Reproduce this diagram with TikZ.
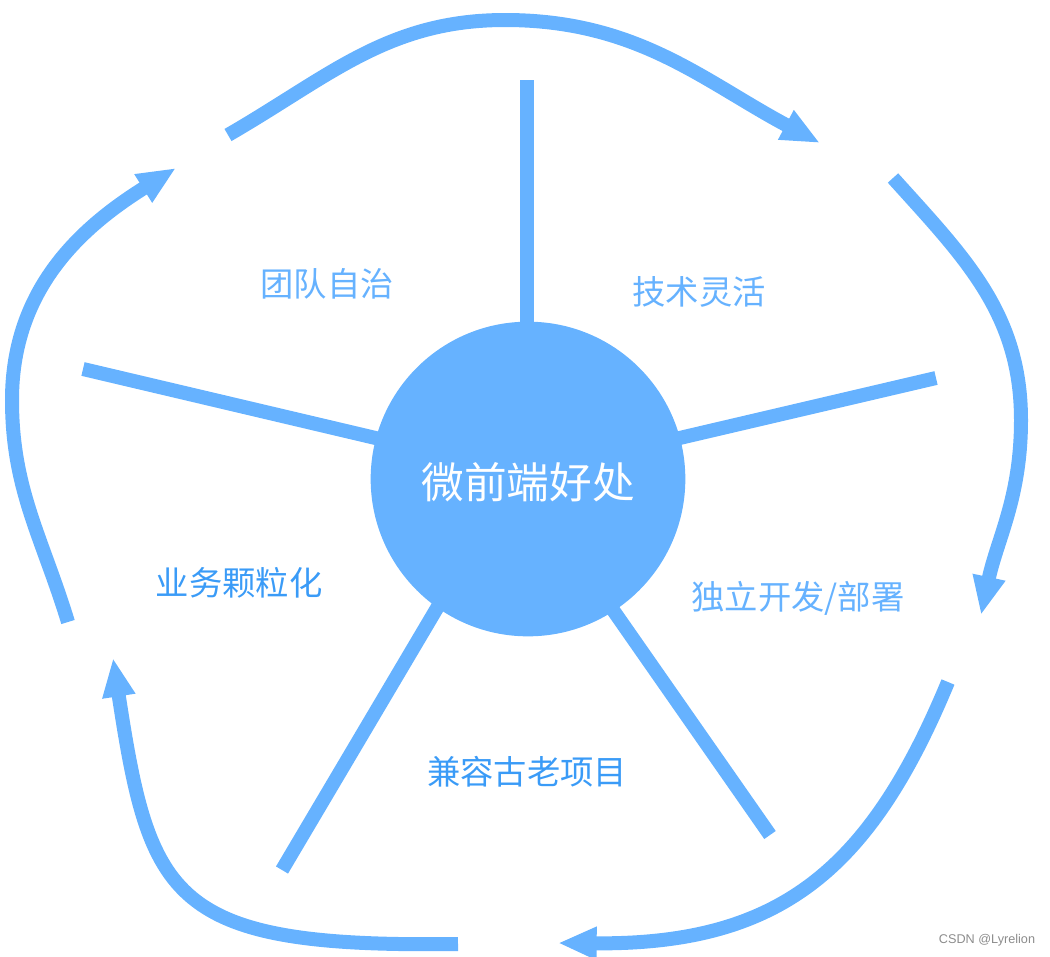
\documentclass[tikz,border=0pt]{standalone}
\definecolor{mfblue}{HTML}{66B2FF}
\definecolor{mfdark}{HTML}{3A9BF7}
\usepackage{fontspec}
\newfontfamily\cjk{Noto Sans CJK SC}
\newfontfamily\wmfont{Liberation Sans}
\usetikzlibrary{arrows.meta,positioning,calc}

\begin{document}
\begin{tikzpicture}[x=0.75pt, y=0.75pt,
  spoke/.style={mfblue, line width=10.5pt},
  cyclearrow/.style={mfblue, line width=10.5pt, -{Triangle[length=29pt,width=23pt]}},
  benefit/.style={font=\cjk\fontsize{25}{30}\selectfont, text=mfblue}]
\useasboundingbox (0,0) rectangle (1050,-957);

% Spokes, drawn under the hub
\coordinate (topIn) at (527,-360);   \coordinate (topOut) at (527,-80);
\coordinate (urIn) at (654,-444);    \coordinate (urOut) at (936,-378);
\coordinate (ulIn) at (401,-444);    \coordinate (ulOut) at (83,-369);
\coordinate (llIn) at (469,-554);    \coordinate (llOut) at (282,-870);
\coordinate (lrIn) at (583,-567);    \coordinate (lrOut) at (770,-835);
\foreach \s in {top,ur,ul,ll,lr}
  \draw[spoke] (\s In) -- (\s Out);

% Hub
\node[circle, fill=mfblue, minimum size=236pt, inner sep=0pt] (hub) at (528,-479) {};
\node[font=\cjk\fontsize{32}{38}\selectfont, text=white] (hubText) at (528,-482) {微前端好处};

% Benefits
\node[benefit] (team) at (327,-284) {团队自治};
\node[benefit] (tech) at (699,-292) {技术灵活};
\node[benefit] (deploy) at (798,-598) {独立开发/部署};
\node[benefit, text=mfdark] (grain) at (239,-583) {业务颗粒化};
\node[benefit, text=mfdark] (legacy) at (527,-772) {兼容古老项目};

% Cycle of arrows
\coordinate (aStart) at (228,-135); \coordinate (aPeak) at (505,-20); \coordinate (aEnd) at (820,-143);
\coordinate (bStart) at (893,-178); \coordinate (bMid) at (1021,-420); \coordinate (bEnd) at (981,-615);
\coordinate (cStart) at (948,-682); \coordinate (cEnd) at (558,-943);
\coordinate (dStart) at (458,-944); \coordinate (dEnd) at (113,-658);
\coordinate (eStart) at (68,-622);  \coordinate (eMid) at (12,-400); \coordinate (eEnd) at (176,-168);

\draw[cyclearrow] (aStart) to[out=30,in=180] (aPeak) to[out=0,in=152] (aEnd);
\draw[cyclearrow] (bStart) to[out=-48,in=90] (bMid) to[out=-90,in=78] (bEnd);
\draw[cyclearrow] (cStart) .. controls (870,-870) and (780,-945) .. (cEnd);
\draw[cyclearrow] (dStart) .. controls (170,-948) and (150,-900) .. (dEnd);
\draw[cyclearrow] (eStart) to[out=107,in=-90] (eMid) to[out=90,in=212] (eEnd);

% Watermark
\node[font=\wmfont\fontsize{9.5}{11}\selectfont, text=black!45] (mark) at (987,-940) {CSDN @Lyrelion};
\end{tikzpicture}
\end{document}
